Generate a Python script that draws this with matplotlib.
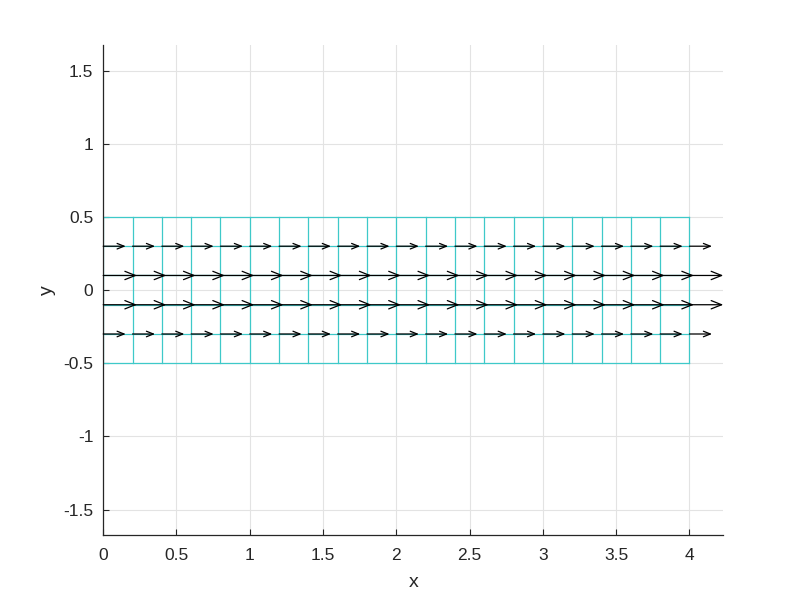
import numpy as np
import matplotlib.pyplot as plt

plt.rcParams['font.family'] = ['Liberation Sans', 'DejaVu Sans']
plt.rcParams['axes.unicode_minus'] = False

# mesh nodes
x_nodes = [0, 0.2, 0.4, 0.6, 0.8, 1.0, 1.2, 1.4, 1.6, 1.8, 2.0,
           2.2, 2.4, 2.6, 2.8, 3.0, 3.2, 3.4, 3.6, 3.8, 4.0]
y_nodes = [-0.5, -0.3, -0.1, 0.1, 0.3, 0.5]
# horizontal velocity at each row of nodes
u_rows = [0.0, 0.64, 0.96, 0.96, 0.64, 0.0]
v_rows = [0.0, 0.0, 0.0, 0.0, 0.0, 0.0]

arrow_scale = 0.24
mesh_color = '#3ec9c9'

fig = plt.figure(figsize=(8, 6), dpi=100)
ax = fig.add_axes([0.129, 0.108, 0.775, 0.817])

# mesh lines
for xv in x_nodes:
    ax.plot([xv, xv], [y_nodes[0], y_nodes[-1]], color=mesh_color, lw=0.9, zorder=2)
for yv in y_nodes:
    ax.plot([x_nodes[0], x_nodes[-1]], [yv, yv], color=mesh_color, lw=0.9, zorder=2)

# velocity arrows, heads scale with arrow length
umax = max(u_rows)
for yv, u, v in zip(y_nodes, u_rows, v_rows):
    if u == 0 and v == 0:
        continue
    for xv in x_nodes:
        ax.annotate('', xy=(xv + u * arrow_scale, yv + v * arrow_scale), xytext=(xv, yv),
                    arrowprops=dict(arrowstyle='->,head_length=0.75,head_width=0.3',
                                    mutation_scale=10 * u / umax,
                                    color='black', lw=0.9, shrinkA=0, shrinkB=0),
                    zorder=3)

ax.set_xlim(0, 4.23)
ax.set_ylim(-1.675, 1.675)
ax.set_xticks(np.arange(0, 4.01, 0.5))
ax.set_yticks(np.arange(-1.5, 1.51, 0.5))
ax.set_xticklabels(['0', '0.5', '1', '1.5', '2', '2.5', '3', '3.5', '4'])
ax.set_yticklabels(['-1.5', '-1', '-0.5', '0', '0.5', '1', '1.5'])
ax.grid(True, color='#e3e3e3', lw=0.8, zorder=0)
ax.set_axisbelow(True)
ax.tick_params(direction='in', length=4, labelsize=12.5, color='#262626',
               labelcolor='#262626')
ax.tick_params(axis='x', pad=9)
ax.tick_params(axis='y', pad=7)
for s in ['top', 'right']:
    ax.spines[s].set_visible(False)
for s in ['left', 'bottom']:
    ax.spines[s].set_color('#262626')
    ax.spines[s].set_linewidth(0.9)
ax.set_xlabel('x', fontsize=14, color='#262626', labelpad=8)
ax.set_ylabel('y', fontsize=14, color='#262626', labelpad=5)

fig.savefig('out.png', dpi=100)
